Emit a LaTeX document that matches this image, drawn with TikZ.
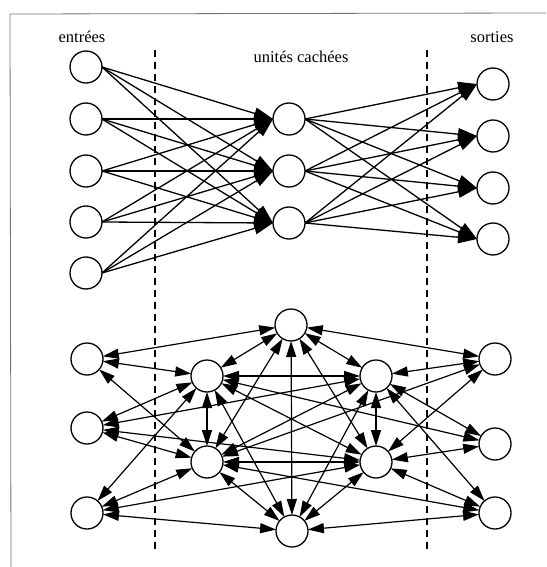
\documentclass[tikz,border=0pt]{standalone}
\usepackage{fontspec}
\setmainfont{Liberation Serif}
\usetikzlibrary{arrows.meta}
\begin{document}
\begin{tikzpicture}[x=1pt,y=-1pt,
 unit/.style={circle,draw,line width=1.3pt,minimum size=32pt,inner sep=0pt,outer sep=0pt},
 conn/.style={line width=1.3pt,-{Triangle[length=19pt,width=12pt]}},
 biconn/.style={line width=1.2pt,{Triangle[length=16pt,width=10pt]}-{Triangle[length=16pt,width=10pt]}},
 sepline/.style={line width=1.2pt,dash pattern=on 7pt off 5pt},
 framel/.style={line width=0.8pt,draw=black!55},
 lbl/.style={font=\fontsize{16.5}{18}\selectfont,anchor=base,inner sep=0pt}]
\useasboundingbox (0,0) rectangle (546,567);
% frame
\coordinate (f1) at (546,13);
\coordinate (f2) at (10,14);
\coordinate (f3) at (11,567);
\draw[framel] (f1) -- (f2) -- (f3);
% separators
\coordinate (s1a) at (155,50); \coordinate (s1b) at (155,550);
\coordinate (s2a) at (427,50); \coordinate (s2b) at (427,550);
\draw[sepline] (s1a) -- (s1b);
\draw[sepline] (s2a) -- (s2b);
% labels
\node[lbl] (le) at (82,42.5) {entrées};
\node[lbl] (ls) at (492,42.5) {sorties};
\node[lbl] (lh) at (301,63) {unités cachées};
% top network
\node[unit] (I1) at (86,67) {};
\node[unit] (I2) at (86,119) {};
\node[unit] (I3) at (86,171) {};
\node[unit] (I4) at (86,222) {};
\node[unit] (I5) at (86,273) {};
\node[unit] (H1) at (289,119) {};
\node[unit] (H2) at (289,171) {};
\node[unit] (H3) at (289,223) {};
\node[unit] (O1) at (493,84) {};
\node[unit] (O2) at (493,136) {};
\node[unit] (O3) at (493,188) {};
\node[unit] (O4) at (493,239) {};
\foreach \i in {1,...,5}{\foreach \h in {1,2,3}{\draw[conn] (I\i.east) -- (H\h.west);}}
\foreach \h in {1,2,3}{\foreach \o in {1,...,4}{\draw[conn] (H\h.east) -- (O\o.west);}}
% bottom network
\node[unit] (L1) at (87,359) {};
\node[unit] (L2) at (87,428) {};
\node[unit] (L3) at (87,513) {};
\node[unit] (A1) at (207,376) {};
\node[unit] (A2) at (207,462) {};
\node[unit] (T) at (291,325) {};
\node[unit] (B) at (292,531) {};
\node[unit] (C1) at (376,376) {};
\node[unit] (C2) at (376,462) {};
\node[unit] (R1) at (495,359) {};
\node[unit] (R2) at (495,444) {};
\node[unit] (R3) at (495,513) {};
\foreach \a/\b in {A1/A2,C1/C2,A1/T,A2/T,C1/T,C2/T,T/B,A1/B,A2/B,C1/B,C2/B,A1/C1,A2/C2,A1/C2,A2/C1,
  L1/T,L1/A1,L1/A2,L2/A1,L2/A2,L2/C1,L2/C2,L3/A1,L3/A2,L3/B,L3/C2,
  R1/T,R1/C1,R1/C2,R1/A2,R2/C1,R2/C2,R2/A1,R3/B,R3/C1,R3/C2,R3/A2}
  {\draw[biconn] (\a) -- (\b);}
\end{tikzpicture}
\end{document}
